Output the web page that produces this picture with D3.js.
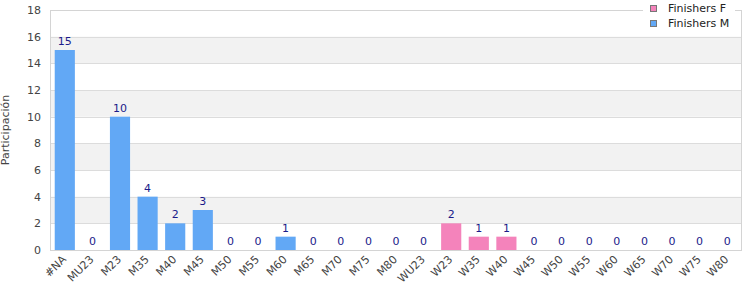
<!DOCTYPE html>
<html><head><meta charset="utf-8">
<script src="https://cdn.jsdelivr.net/npm/d3@7"></script>
<style>body{margin:0;background:#fff}svg{display:block;font-family:"DejaVu Sans",Verdana,sans-serif}</style>
</head><body><svg id="c" width="750" height="300"></svg>
<script>
const categories = ["#NA","MU23","M23","M35","M40","M45","M50","M55","M60","M65","M70","M75","M80","WU23","W23","W35","W40","W45","W50","W55","W60","W65","W70","W75","W80"];
const finishersM = [15,0,10,4,2,3,0,0,1,0,0,0,0,null,null,null,null,null,null,null,null,null,null,null,null];
const finishersF = [null,null,null,null,null,null,null,null,null,null,null,null,null,0,2,1,1,0,0,0,0,0,0,0,0];
const yTicks = [0,2,4,6,8,10,12,14,16,18];
const seriesNames = ["Finishers F","Finishers M"];
const colors = {"Finishers F":"#f483bb","Finishers M":"#62a8f5"};

const svg = d3.select("#c");
const m = {l:51, r:9, t:10, b:50};
const W = 750, H = 300;
const x = d3.scaleBand().domain(categories).range([m.l, W-m.r]).paddingInner(0.27).paddingOuter(0.135);
const y = d3.scaleLinear().domain([0,18]).range([H-m.b, m.t]);

// alternating bands
for (let i=0;i<yTicks.length-1;i++){
  if (i%2===1) svg.append("rect").attr("x",m.l).attr("width",W-m.r-m.l)
    .attr("y",y(yTicks[i+1])).attr("height",y(yTicks[i])-y(yTicks[i+1])).attr("fill","#f2f2f2");
}
// grid lines
svg.append("g").selectAll("line").data(yTicks).join("line")
  .attr("x1",m.l).attr("x2",W-m.r).attr("y1",d=>Math.round(y(d))+0.5).attr("y2",d=>Math.round(y(d))+0.5)
  .attr("stroke","#dcdcdc");
// border
svg.append("rect").attr("x",m.l-0.5).attr("y",m.t+0.5).attr("width",W-m.r-m.l+1).attr("height",H-m.b-m.t)
  .attr("fill","none").attr("stroke","#d4d4d4");

// y axis
const ya = svg.append("g").attr("transform",`translate(${m.l},0)`).call(d3.axisLeft(y).tickValues(yTicks).tickSize(0).tickPadding(10));
ya.select(".domain").remove();
ya.selectAll("text").attr("fill","#444").attr("font-size","11px").attr("font-family","DejaVu Sans, Verdana, sans-serif");

// x axis
const xa = svg.append("g").attr("transform",`translate(0,${H-m.b})`).call(d3.axisBottom(x).tickSize(0).tickPadding(0));
xa.select(".domain").remove();
xa.selectAll("text").attr("fill","#444").attr("font-size","11px").attr("font-family","DejaVu Sans, Verdana, sans-serif")
  .attr("text-anchor","end").attr("dy",0).attr("transform","translate(2,10) rotate(-45)");

// y title
svg.append("text").attr("transform",`translate(9,${(m.t+H-m.b)/2}) rotate(-90)`).attr("text-anchor","middle")
  .attr("font-size","11px").attr("fill","#444").text("Participación");

// bars
const rows = categories.map((c,i)=> finishersM[i]!==null ? {c, v:finishersM[i], s:"Finishers M"} : {c, v:finishersF[i], s:"Finishers F"});
svg.append("g").selectAll("rect").data(rows).join("rect")
  .attr("x",d=>x(d.c)).attr("width",x.bandwidth()).attr("y",d=>y(d.v)).attr("height",d=>y(0)-y(d.v))
  .attr("fill",d=>colors[d.s]);
svg.append("g").selectAll("text").data(rows).join("text")
  .attr("x",d=>x(d.c)+x.bandwidth()/2).attr("y",d=>y(d.v)-5).attr("text-anchor","middle")
  .attr("font-size","11px").attr("fill","#1b1b8a").text(d=>d.v);

// legend
const lg = svg.append("g");
lg.append("rect").attr("x",643).attr("y",0).attr("width",92).attr("height",31).attr("fill","#fff");
seriesNames.forEach((s,i)=>{
  lg.append("rect").attr("x",650.5).attr("y",5.5+i*15).attr("width",6).attr("height",6).attr("fill",colors[s]).attr("stroke","#777");
  lg.append("text").attr("x",668).attr("y",12+i*15).attr("font-size","11px").attr("fill","#222").text(s);
});
</script></body></html>
